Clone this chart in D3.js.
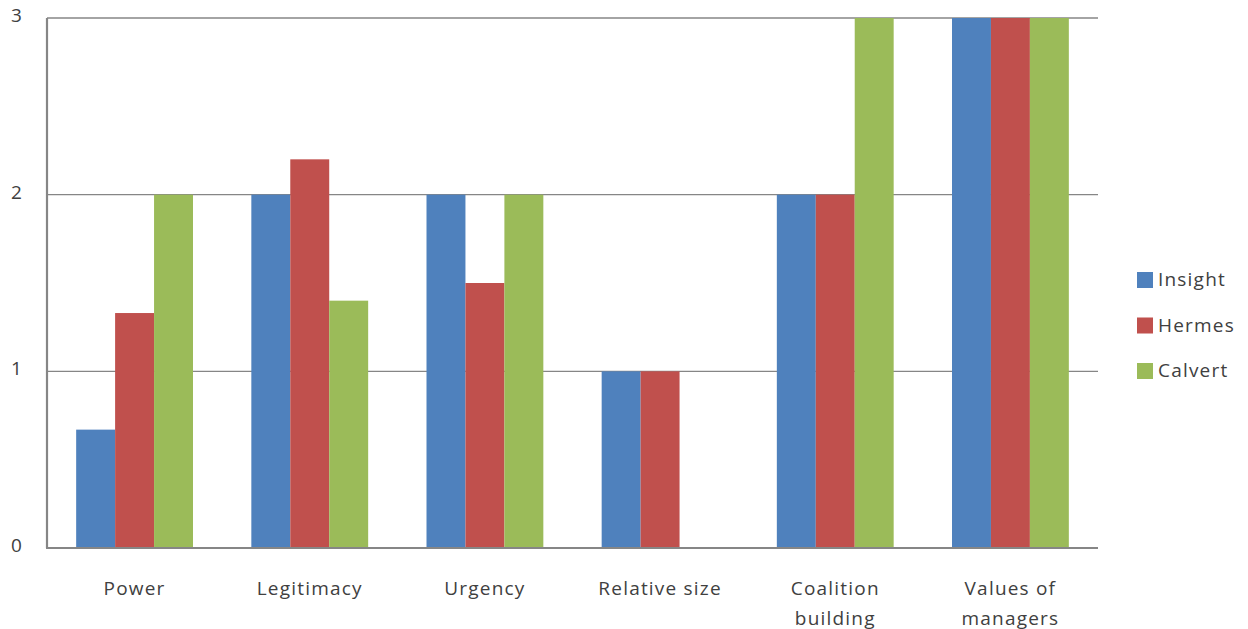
<!DOCTYPE html>
<html lang="en">
<head>
    <meta charset="UTF-8">
    <title>Stakeholder attributes by investor</title>
    <script src="https://d3js.org/d3.v7.min.js"></script>
    <style>
        body {
            margin: 0;
            background: #fff;
            font-family: "Open Sans", "Noto Sans", sans-serif;
        }
        .tick-label, .cat-label, .legend-label {
            font-size: 19px;
            letter-spacing: 1.2px;
            fill: #404040;
        }
    </style>
</head>
<body>
<svg id="chart" width="1248" height="629"></svg>
<script>
    // Data
    const categories = [["Power"], ["Legitimacy"], ["Urgency"], ["Relative size"],
        ["Coalition", "building"], ["Values of", "managers"]];
    const seriesNames = ["Insight", "Hermes", "Calvert"];
    const insight = [0.67, 2, 2, 1, 2, 3];
    const hermes = [1.33, 2.2, 1.5, 1, 2, 3];
    const calvert = [2, 1.4, 2, 0, 3, 3];
    const yTicks = [0, 1, 2, 3];
    const colors = ["#4F81BD", "#C0504D", "#9BBB59"];

    const series = [insight, hermes, calvert];

    const margin = { top: 18, right: 150, bottom: 81, left: 47 };
    const width = 1248, height = 629;
    const plotW = width - margin.left - margin.right;
    const plotH = height - margin.top - margin.bottom;

    const svg = d3.select("#chart");
    const g = svg.append("g").attr("transform", `translate(${margin.left},${margin.top})`);

    const x0 = d3.scaleBand()
        .domain(d3.range(categories.length))
        .range([0, plotW])
        .paddingInner(0.333)
        .paddingOuter(0.1665);

    const x1 = d3.scaleBand()
        .domain(d3.range(seriesNames.length))
        .range([0, x0.bandwidth()]);

    const y = d3.scaleLinear().domain([0, 3]).range([plotH, 0]);

    // Gridlines
    g.selectAll(".grid")
        .data(yTicks.filter(d => d > 0))
        .enter().append("line")
        .attr("x1", 0).attr("x2", plotW)
        .attr("y1", d => y(d)).attr("y2", d => y(d))
        .attr("stroke", "#868686")
        .attr("stroke-width", 1.3);

    // Bars
    series.forEach((vals, s) => {
        g.selectAll(".bar-" + s)
            .data(vals)
            .enter().append("rect")
            .attr("x", (d, i) => x0(i) + x1(s))
            .attr("y", d => y(d))
            .attr("width", x1.bandwidth())
            .attr("height", d => plotH - y(d))
            .attr("fill", colors[s]);
    });

    // Axis lines
    g.append("line")
        .attr("x1", 0).attr("x2", 0).attr("y1", 0).attr("y2", plotH)
        .attr("stroke", "#868686").attr("stroke-width", 2.2);
    g.append("line")
        .attr("x1", -1).attr("x2", plotW).attr("y1", plotH).attr("y2", plotH)
        .attr("stroke", "#868686").attr("stroke-width", 2.2);

    // Y tick labels
    g.selectAll(".tick-label")
        .data(yTicks)
        .enter().append("text")
        .attr("class", "tick-label")
        .attr("x", -24)
        .attr("y", d => y(d) - 1)
        .attr("text-anchor", "end")
        .attr("dominant-baseline", "middle")
        .text(d => d);

    // Category labels
    categories.forEach((lines, i) => {
        const t = g.append("text")
            .attr("class", "cat-label")
            .attr("text-anchor", "middle")
            .attr("x", x0(i) + x0.bandwidth() / 2)
            .attr("y", plotH + 47);
        lines.forEach((ln, k) => {
            t.append("tspan")
                .attr("x", x0(i) + x0.bandwidth() / 2)
                .attr("dy", k === 0 ? 0 : 30)
                .text(ln);
        });
    });

    // Legend
    const legend = svg.append("g").attr("transform", "translate(1137, 272)");
    seriesNames.forEach((name, i) => {
        legend.append("rect")
            .attr("x", 0).attr("y", i * 45.5)
            .attr("width", 16).attr("height", 16)
            .attr("fill", colors[i]);
        legend.append("text")
            .attr("class", "legend-label")
            .attr("x", 21).attr("y", i * 45.5 + 9)
            .attr("dominant-baseline", "middle")
            .text(name);
    });
</script>
</body>
</html>
